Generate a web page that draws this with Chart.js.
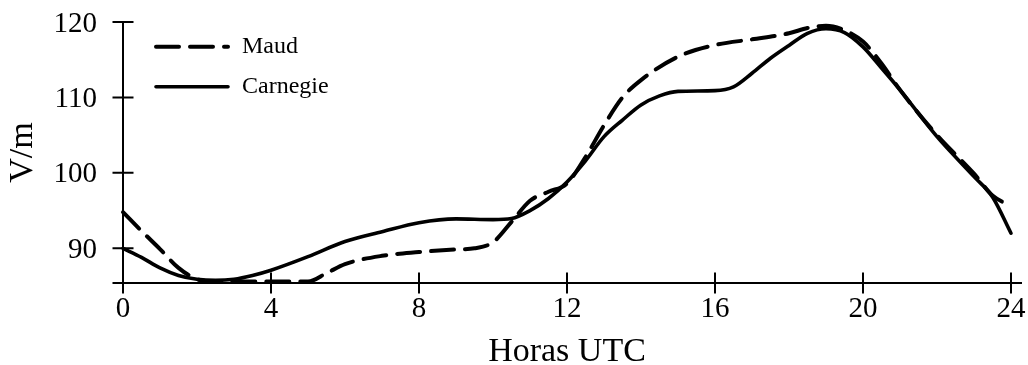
<!DOCTYPE html>
<html>
<head>
<meta charset="utf-8">
<script src="https://cdn.jsdelivr.net/npm/chart.js@4/dist/chart.umd.min.js"></script>
<style>
  html, body { margin: 0; padding: 0; background: #fff; }
  #wrap { width: 1028px; height: 365px; }
</style>
</head>
<body>
<div id="wrap"><canvas id="fieldChart"></canvas></div>
<script>
// Mean diurnal variation of the atmospheric electric field (V/m)
var maudHours = [0, 0.5, 1, 1.5, 2, 2.5, 3, 4, 5, 5.5, 6, 7, 8, 9, 9.5, 10, 10.5, 11, 11.5, 12,
  12.5, 13, 13.5, 14, 15, 16, 17, 18, 18.5, 19, 19.5, 20, 20.5, 21, 22, 23, 23.5, 24, 24.18];
var maudValues = [94.8, 92.3, 89.9, 87.4, 85.9, 85.6, 85.6, 85.6, 85.6, 86.7, 87.9, 89.0, 89.5, 89.85, 90.0, 90.8, 93.5, 96.3, 97.5, 98.6,
  102.1, 106.3, 110.0, 112.3, 115.4, 116.95, 117.7, 118.5, 119.2, 119.5, 118.9, 117.4, 114.5, 111.0, 105.0, 99.9, 97.0, 95.6, 95.1];

var carnegieHours = [0, 0.5, 1, 1.5, 2, 2.5, 3, 3.5, 4, 5, 6, 7, 8, 9, 10, 10.5, 11, 11.5, 12,
  12.5, 13, 13.5, 14, 14.5, 15, 16, 16.5, 17, 17.5, 18, 18.5, 19, 19.5, 20, 20.5, 21, 22, 23, 23.5, 24];
var carnegieValues = [90.0, 88.8, 87.4, 86.4, 85.9, 85.75, 85.9, 86.4, 87.1, 88.9, 90.9, 92.2, 93.4, 93.9, 93.8, 93.95, 95.0, 96.6, 98.8,
  101.6, 104.8, 107.0, 109.0, 110.2, 110.8, 110.9, 111.4, 113.2, 115.2, 116.9, 118.5, 119.1, 118.6, 116.7, 113.9, 111.0, 104.8, 99.5, 96.8, 92.0];

var xTicks = [0, 4, 8, 12, 16, 20, 24];
var yTicks = [90, 100, 110, 120];

var serif = "'Liberation Serif', 'Times New Roman', serif";

function toPoints(xs, ys) {
  return xs.map(function (x, i) {
    return { x: x, y: ys[i] };
  });
}

// axis lines with ticks crossing them, like a plain LaTeX plot
var crossAxes = {
  id: "crossAxes",
  beforeDatasetsDraw: function (chart) {
    var ctx = chart.ctx;
    var xs = chart.scales.x;
    var ys = chart.scales.y;
    var area = chart.chartArea;
    var half = 10.5;
    ctx.save();
    ctx.strokeStyle = "#000";
    ctx.lineWidth = 2;
    ctx.beginPath();
    ctx.moveTo(area.left - half, area.bottom);
    ctx.lineTo(area.right + 11, area.bottom);
    ctx.moveTo(area.left, area.top);
    ctx.lineTo(area.left, area.bottom + half);
    xs.ticks.forEach(function (t) {
      var px = xs.getPixelForValue(t.value);
      ctx.moveTo(px, area.bottom - half);
      ctx.lineTo(px, area.bottom + half);
    });
    ys.ticks.forEach(function (t) {
      var py = ys.getPixelForValue(t.value);
      ctx.moveTo(area.left - half, py);
      ctx.lineTo(area.left + half, py);
    });
    ctx.stroke();
    ctx.restore();
  },
};

// small legend in the upper-left corner of the plot
var cornerLegend = {
  id: "cornerLegend",
  afterDatasetsDraw: function (chart) {
    var ctx = chart.ctx;
    ctx.save();
    chart.data.datasets.forEach(function (ds, i) {
      var y = 46.7 + i * 40;
      ctx.beginPath();
      ctx.strokeStyle = ds.borderColor;
      ctx.lineWidth = ds.borderWidth;
      ctx.lineCap = "round";
      ctx.setLineDash(ds.borderDash || []);
      ctx.moveTo(156, y);
      ctx.lineTo(228, y);
      ctx.stroke();
      ctx.setLineDash([]);
      ctx.fillStyle = "#000";
      ctx.font = "24px " + serif;
      ctx.textAlign = "left";
      ctx.textBaseline = "middle";
      ctx.fillText(ds.label, 242, y);
    });
    ctx.restore();
  },
};

var chart = new Chart("fieldChart", {
  type: "line",
  data: {
    datasets: [
      {
        label: "Maud",
        data: toPoints(maudHours, maudValues),
        borderColor: "#000",
        borderWidth: 4,
        borderDash: [23, 11],
        borderCapStyle: "round",
        cubicInterpolationMode: "monotone",
        pointRadius: 0,
        clip: false,
      },
      {
        label: "Carnegie",
        data: toPoints(carnegieHours, carnegieValues),
        borderColor: "#000",
        borderWidth: 3.6,
        borderCapStyle: "round",
        cubicInterpolationMode: "monotone",
        pointRadius: 0,
        clip: false,
      },
    ],
  },
  options: {
    responsive: true,
    maintainAspectRatio: false,
    animation: false,
    layout: { padding: { top: 22, right: 17, bottom: 0, left: 0 } },
    plugins: {
      legend: { display: false },
      tooltip: { enabled: false },
    },
    scales: {
      x: {
        type: "linear",
        min: 0,
        max: 24,
        afterBuildTicks: function (scale) {
          scale.ticks = xTicks.map(function (v) { return { value: v }; });
        },
        afterFit: function (scale) {
          scale.height = 82;
          scale.paddingLeft = 0;
          scale.paddingRight = 0;
        },
        grid: { display: false, drawTicks: false },
        border: { display: false },
        ticks: {
          color: "#000",
          padding: 9,
          maxRotation: 0,
          font: { family: serif, size: 29 },
        },
        title: {
          display: true,
          text: "Horas UTC",
          color: "#000",
          font: { family: serif, size: 34, lineHeight: 0.76 },
          padding: { top: 0, bottom: 0 },
        },
      },
      y: {
        min: 85.4,
        max: 120,
        afterBuildTicks: function (scale) {
          scale.ticks = yTicks.map(function (v) { return { value: v }; });
        },
        afterFit: function (scale) {
          scale.width = 123;
          scale.paddingTop = 0;
          scale.paddingBottom = 0;
        },
        grid: { display: false, drawTicks: false },
        border: { display: false },
        ticks: {
          color: "#000",
          padding: 26,
          labelOffset: 2,
          font: { family: serif, size: 29 },
        },
        title: {
          display: true,
          text: "V/m",
          color: "#000",
          font: { family: serif, size: 34, lineHeight: 1 },
          padding: { top: 6, bottom: 0 },
        },
      },
    },
  },
  plugins: [crossAxes, cornerLegend],
});
</script>
</body>
</html>
